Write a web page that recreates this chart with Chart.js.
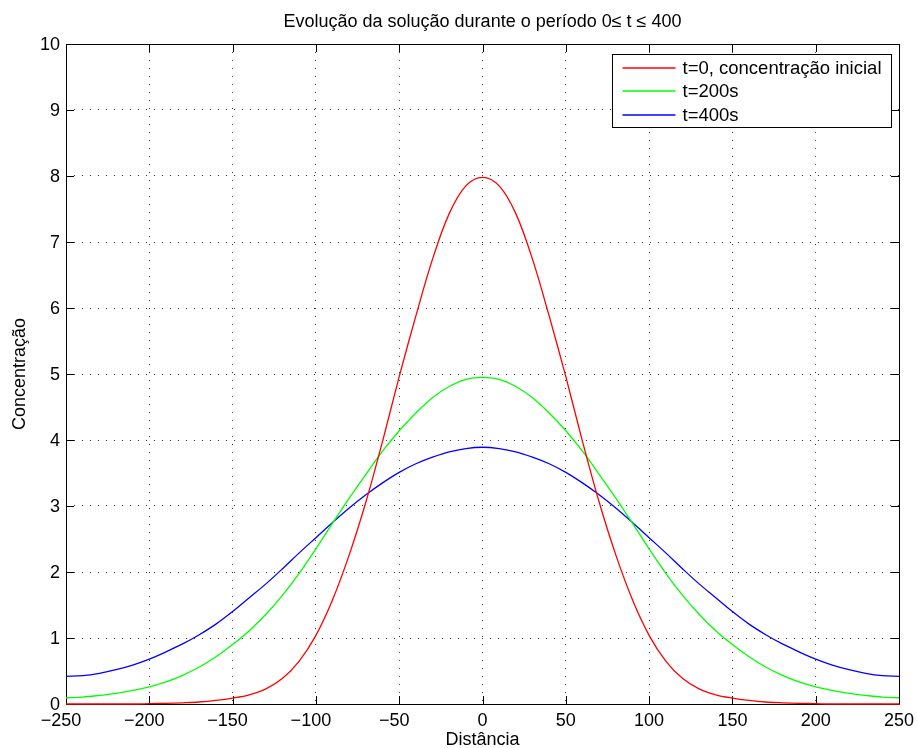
<!DOCTYPE html>
<html>
<head>
<meta charset="utf-8">
<script src="https://cdn.jsdelivr.net/npm/chart.js@4"></script>
<style>
  body { margin: 0; background: #fff; }
  canvas { display: block; }
</style>
</head>
<body>
<canvas id="evolucaoChart" width="917" height="748"></canvas>
<script>
// Distância (x) e concentração para cada instante
const distancia = [-250, -240, -230, -220, -210, -200, -190, -180, -170, -160, -150, -140, -130, -120, -110, -100, -90, -80, -70, -60, -50, -40, -30, -20, -10,
    0, 10, 20, 30, 40, 50, 60, 70, 80, 90, 100, 110, 120, 130, 140, 150, 160, 170, 180, 190, 200, 210, 220, 230, 240, 250];

const concInicial = [0, 0, 0, 0, 0, 0.005, 0.01, 0.018, 0.03, 0.055, 0.09, 0.14, 0.23, 0.39, 0.65, 1.04, 1.58, 2.26, 3.06, 3.98, 4.96, 5.88, 6.74, 7.43, 7.85,
    7.98, 7.85, 7.43, 6.74, 5.88, 4.96, 3.98, 3.06, 2.26, 1.58, 1.04, 0.65, 0.39, 0.23, 0.14, 0.09, 0.055, 0.03, 0.018, 0.01, 0.005, 0, 0, 0, 0, 0];

const conc200 = [0.095, 0.105, 0.13, 0.16, 0.205, 0.26, 0.335, 0.435, 0.56, 0.715, 0.90, 1.11, 1.36, 1.65, 1.98, 2.35, 2.74, 3.12, 3.48, 3.83, 4.14, 4.41, 4.64, 4.81, 4.92,
    4.95, 4.92, 4.81, 4.64, 4.41, 4.14, 3.83, 3.48, 3.12, 2.74, 2.35, 1.98, 1.65, 1.36, 1.11, 0.90, 0.715, 0.56, 0.435, 0.335, 0.26, 0.205, 0.16, 0.13, 0.105, 0.095];

const conc400 = [0.42, 0.43, 0.465, 0.52, 0.59, 0.68, 0.79, 0.91, 1.05, 1.21, 1.40, 1.61, 1.82, 2.05, 2.29, 2.52, 2.75, 2.97, 3.17, 3.35, 3.51, 3.64, 3.74, 3.82, 3.87,
    3.89, 3.87, 3.82, 3.74, 3.64, 3.51, 3.35, 3.17, 2.97, 2.75, 2.52, 2.29, 2.05, 1.82, 1.61, 1.40, 1.21, 1.05, 0.91, 0.79, 0.68, 0.59, 0.52, 0.465, 0.43, 0.42];

const legendas = ['t=0, concentração inicial', 't=200s', 't=400s'];
const cores = ['#ff0000', '#00ff00', '#0000ff'];

const xTickValues = [-250, -200, -150, -100, -50, 0, 50, 100, 150, 200, 250];
const yTickValues = [0, 1, 2, 3, 4, 5, 6, 7, 8, 9, 10];

const FONTE = '"Liberation Sans", Arial, Helvetica, sans-serif';
Chart.defaults.font.family = FONTE;
Chart.defaults.font.size = 18;
Chart.defaults.color = '#000';

function pontos(valores) {
    return distancia.map((x, i) => ({ x: x, y: valores[i] }));
}

// sinal de menos pendurado à esquerda, algarismos centrados na marca
function rotuloX(v) {
    return v < 0 ? '\u2212' + Math.abs(v) + '\u2007' : String(v);
}

// Caixa do eixo com marcas para dentro nos quatro lados
const molduraPlugin = {
    id: 'moldura',
    beforeDatasetsDraw(chart) {
        const { ctx, chartArea: a, scales: { x, y } } = chart;
        const len = 8;
        ctx.save();
        ctx.strokeStyle = '#000';
        ctx.lineWidth = 1;
        ctx.beginPath();
        ctx.rect(Math.round(a.left) + 0.5, Math.round(a.top) + 0.5,
            Math.round(a.right - a.left), Math.round(a.bottom - a.top));
        x.ticks.forEach(t => {
            const px = Math.round(x.getPixelForValue(t.value)) + 0.5;
            ctx.moveTo(px, a.bottom); ctx.lineTo(px, a.bottom - len);
            ctx.moveTo(px, a.top); ctx.lineTo(px, a.top + len);
        });
        y.ticks.forEach(t => {
            const py = Math.round(y.getPixelForValue(t.value)) + 0.5;
            ctx.moveTo(a.left, py); ctx.lineTo(a.left + len, py);
            ctx.moveTo(a.right, py); ctx.lineTo(a.right - len, py);
        });
        ctx.stroke();
        ctx.restore();
    }
};

// Legenda com caixa no canto superior direito
const legendaPlugin = {
    id: 'legenda',
    afterDatasetsDraw(chart) {
        const { ctx, chartArea: a } = chart;
        const sets = chart.data.datasets;
        ctx.save();
        ctx.font = '18.5px ' + FONTE;
        const textW = Math.max(...sets.map(d => ctx.measureText(d.label).width));
        const w = Math.round(70 + textW + 10);
        const h = 73;
        const left = Math.round(a.right - 8 - w) + 0.5;
        const top = Math.round(a.top + 10) + 0.5;
        ctx.fillStyle = '#fff';
        ctx.fillRect(left, top, w, h);
        ctx.strokeStyle = '#000';
        ctx.lineWidth = 1;
        ctx.strokeRect(left, top, w, h);
        ctx.textBaseline = 'middle';
        ctx.textAlign = 'left';
        sets.forEach((d, i) => {
            const yy = Math.round(top + 13.5 + i * 23.3);
            ctx.strokeStyle = cores[i];
            ctx.lineWidth = 1.3;
            ctx.beginPath();
            ctx.moveTo(left + 10, yy);
            ctx.lineTo(left + 63, yy);
            ctx.stroke();
            ctx.fillStyle = '#000';
            ctx.fillText(d.label, left + 70, yy + 1);
        });
        ctx.restore();
    }
};

const series = [concInicial, conc200, conc400];

new Chart(document.getElementById('evolucaoChart'), {
    type: 'line',
    data: {
        datasets: series.map((s, i) => ({
            label: legendas[i],
            data: pontos(s),
            borderColor: cores[i],
            backgroundColor: cores[i],
            borderWidth: 1.3,
            pointRadius: 0,
            fill: false,
            tension: 0.35,
            clip: false
        }))
    },
    options: {
        responsive: false,
        animation: false,
        devicePixelRatio: 1,
        layout: { padding: { left: 0, right: 18, top: 0, bottom: 0 } },
        plugins: {
            legend: { display: false },
            tooltip: { enabled: false },
            title: {
                display: true,
                fullSize: false,
                text: 'Evolução da solução durante o período 0\u2264 t \u2264 400',
                font: { size: 18, weight: 'normal', lineHeight: 1.2 },
                color: '#000',
                padding: { top: 11.5, bottom: 10.9 }
            }
        },
        scales: {
            x: {
                type: 'linear',
                min: -250,
                max: 250,
                afterBuildTicks: s => { s.ticks = xTickValues.map(v => ({ value: v })); },
                afterFit: s => { s.height = 44; s.paddingLeft = 0; s.paddingRight = 0; },
                ticks: { padding: 6, maxRotation: 0, autoSkip: false, callback: v => rotuloX(v) },
                grid: { color: 'rgba(0,0,0,0.8)', lineWidth: 1, drawTicks: false },
                border: { display: false, dash: [1, 7] },
                title: { display: true, text: 'Distância', font: { size: 18, lineHeight: 0.9 }, padding: { top: 0, bottom: 0 } }
            },
            y: {
                type: 'linear',
                min: 0,
                max: 10,
                afterBuildTicks: s => { s.ticks = yTickValues.map(v => ({ value: v })); },
                afterFit: s => { s.width = 66; s.paddingTop = 0; s.paddingBottom = 0; },
                ticks: { padding: 6, labelOffset: 1, autoSkip: false },
                grid: { color: 'rgba(0,0,0,0.8)', lineWidth: 1, drawTicks: false },
                border: { display: false, dash: [1, 7] },
                title: { display: true, text: 'Concentração', font: { size: 18, lineHeight: 1.2 }, padding: { top: 9, bottom: 0 } }
            }
        }
    },
    plugins: [molduraPlugin, legendaPlugin]
});
</script>
</body>
</html>
